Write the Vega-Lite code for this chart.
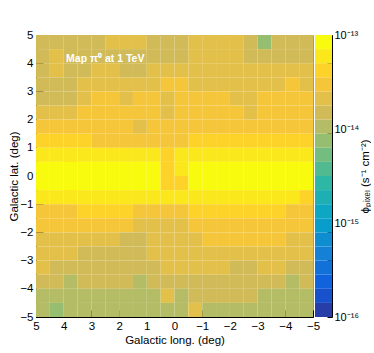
{
  "$schema": "https://vega.github.io/schema/vega-lite/v6.json",
  "background": "white",
  "padding": {"left": 7, "top": 28, "right": 0, "bottom": 0},
  "bounds": "flush",
  "config": {
    "font": "Liberation Sans",
    "view": {"stroke": "#9a9a9a", "strokeWidth": 1},
    "concat": {"spacing": 2},
    "axis": {"labelFont": "Liberation Sans", "titleFont": "Liberation Sans", "labelColor": "black", "titleColor": "black", "domainColor": "black", "tickColor": "black", "grid": false, "labelFlush": false, "labelOverlap": false, "labelBound": false, "titleFontWeight": "normal", "zindex": 1}
  },
  "resolve": {"scale": {"color": "independent"}},
  "hconcat": [
    {
      "width": 277,
      "height": 282,
      "data": {"values": [
{"b":5,"b2":4.5,"l":5,"l2":4.5,"f":1.5e-14},{"b":5,"b2":4.5,"l":4.5,"l2":4,"f":1.5e-14},{"b":5,"b2":4.5,"l":4,"l2":3.5,"f":1.5e-14},{"b":5,"b2":4.5,"l":3.5,"l2":3,"f":1.5e-14},{"b":5,"b2":4.5,"l":3,"l2":2.5,"f":1.5e-14},{"b":5,"b2":4.5,"l":2.5,"l2":2,"f":2.11e-14},{"b":5,"b2":4.5,"l":2,"l2":1.5,"f":2.11e-14},{"b":5,"b2":4.5,"l":1.5,"l2":1,"f":2.11e-14},{"b":5,"b2":4.5,"l":1,"l2":0.5,"f":1.5e-14},{"b":5,"b2":4.5,"l":0.5,"l2":0,"f":1.5e-14},
{"b":5,"b2":4.5,"l":0,"l2":-0.5,"f":1.5e-14},{"b":5,"b2":4.5,"l":-0.5,"l2":-1,"f":2.11e-14},{"b":5,"b2":4.5,"l":-1,"l2":-1.5,"f":2.11e-14},{"b":5,"b2":4.5,"l":-1.5,"l2":-2,"f":2.11e-14},{"b":5,"b2":4.5,"l":-2,"l2":-2.5,"f":2.11e-14},{"b":5,"b2":4.5,"l":-2.5,"l2":-3,"f":1.5e-14},{"b":5,"b2":4.5,"l":-3,"l2":-3.5,"f":7.5e-15},{"b":5,"b2":4.5,"l":-3.5,"l2":-4,"f":1.5e-14},{"b":5,"b2":4.5,"l":-4,"l2":-4.5,"f":1.5e-14},{"b":5,"b2":4.5,"l":-4.5,"l2":-5,"f":1.5e-14},
{"b":4.5,"b2":4,"l":5,"l2":4.5,"f":1.5e-14},{"b":4.5,"b2":4,"l":4.5,"l2":4,"f":2.11e-14},{"b":4.5,"b2":4,"l":4,"l2":3.5,"f":1.5e-14},{"b":4.5,"b2":4,"l":3.5,"l2":3,"f":1.5e-14},{"b":4.5,"b2":4,"l":3,"l2":2.5,"f":1.5e-14},{"b":4.5,"b2":4,"l":2.5,"l2":2,"f":1.5e-14},{"b":4.5,"b2":4,"l":2,"l2":1.5,"f":1.5e-14},{"b":4.5,"b2":4,"l":1.5,"l2":1,"f":1.5e-14},{"b":4.5,"b2":4,"l":1,"l2":0.5,"f":1.5e-14},{"b":4.5,"b2":4,"l":0.5,"l2":0,"f":1.5e-14},
{"b":4.5,"b2":4,"l":0,"l2":-0.5,"f":1.5e-14},{"b":4.5,"b2":4,"l":-0.5,"l2":-1,"f":2.11e-14},{"b":4.5,"b2":4,"l":-1,"l2":-1.5,"f":2.11e-14},{"b":4.5,"b2":4,"l":-1.5,"l2":-2,"f":2.11e-14},{"b":4.5,"b2":4,"l":-2,"l2":-2.5,"f":2.11e-14},{"b":4.5,"b2":4,"l":-2.5,"l2":-3,"f":1.5e-14},{"b":4.5,"b2":4,"l":-3,"l2":-3.5,"f":1.5e-14},{"b":4.5,"b2":4,"l":-3.5,"l2":-4,"f":1.5e-14},{"b":4.5,"b2":4,"l":-4,"l2":-4.5,"f":1.5e-14},{"b":4.5,"b2":4,"l":-4.5,"l2":-5,"f":1.5e-14},
{"b":4,"b2":3.5,"l":5,"l2":4.5,"f":1.5e-14},{"b":4,"b2":3.5,"l":4.5,"l2":4,"f":2.11e-14},{"b":4,"b2":3.5,"l":4,"l2":3.5,"f":1.5e-14},{"b":4,"b2":3.5,"l":3.5,"l2":3,"f":1.5e-14},{"b":4,"b2":3.5,"l":3,"l2":2.5,"f":2.11e-14},{"b":4,"b2":3.5,"l":2.5,"l2":2,"f":2.11e-14},{"b":4,"b2":3.5,"l":2,"l2":1.5,"f":1.5e-14},{"b":4,"b2":3.5,"l":1.5,"l2":1,"f":1.5e-14},{"b":4,"b2":3.5,"l":1,"l2":0.5,"f":2.11e-14},{"b":4,"b2":3.5,"l":0.5,"l2":0,"f":2.11e-14},
{"b":4,"b2":3.5,"l":0,"l2":-0.5,"f":2.11e-14},{"b":4,"b2":3.5,"l":-0.5,"l2":-1,"f":2.11e-14},{"b":4,"b2":3.5,"l":-1,"l2":-1.5,"f":2.11e-14},{"b":4,"b2":3.5,"l":-1.5,"l2":-2,"f":2.11e-14},{"b":4,"b2":3.5,"l":-2,"l2":-2.5,"f":2.11e-14},{"b":4,"b2":3.5,"l":-2.5,"l2":-3,"f":2.11e-14},{"b":4,"b2":3.5,"l":-3,"l2":-3.5,"f":2.11e-14},{"b":4,"b2":3.5,"l":-3.5,"l2":-4,"f":2.11e-14},{"b":4,"b2":3.5,"l":-4,"l2":-4.5,"f":2.11e-14},{"b":4,"b2":3.5,"l":-4.5,"l2":-5,"f":2.11e-14},
{"b":3.5,"b2":3,"l":5,"l2":4.5,"f":1.5e-14},{"b":3.5,"b2":3,"l":4.5,"l2":4,"f":1.5e-14},{"b":3.5,"b2":3,"l":4,"l2":3.5,"f":1.5e-14},{"b":3.5,"b2":3,"l":3.5,"l2":3,"f":2.11e-14},{"b":3.5,"b2":3,"l":3,"l2":2.5,"f":2.11e-14},{"b":3.5,"b2":3,"l":2.5,"l2":2,"f":2.11e-14},{"b":3.5,"b2":3,"l":2,"l2":1.5,"f":2.11e-14},{"b":3.5,"b2":3,"l":1.5,"l2":1,"f":2.11e-14},{"b":3.5,"b2":3,"l":1,"l2":0.5,"f":2.11e-14},{"b":3.5,"b2":3,"l":0.5,"l2":0,"f":2.99e-14},
{"b":3.5,"b2":3,"l":0,"l2":-0.5,"f":2.99e-14},{"b":3.5,"b2":3,"l":-0.5,"l2":-1,"f":2.11e-14},{"b":3.5,"b2":3,"l":-1,"l2":-1.5,"f":2.11e-14},{"b":3.5,"b2":3,"l":-1.5,"l2":-2,"f":2.11e-14},{"b":3.5,"b2":3,"l":-2,"l2":-2.5,"f":2.11e-14},{"b":3.5,"b2":3,"l":-2.5,"l2":-3,"f":2.11e-14},{"b":3.5,"b2":3,"l":-3,"l2":-3.5,"f":2.11e-14},{"b":3.5,"b2":3,"l":-3.5,"l2":-4,"f":2.11e-14},{"b":3.5,"b2":3,"l":-4,"l2":-4.5,"f":2.99e-14},{"b":3.5,"b2":3,"l":-4.5,"l2":-5,"f":2.11e-14},
{"b":3,"b2":2.5,"l":5,"l2":4.5,"f":1.5e-14},{"b":3,"b2":2.5,"l":4.5,"l2":4,"f":1.5e-14},{"b":3,"b2":2.5,"l":4,"l2":3.5,"f":1.5e-14},{"b":3,"b2":2.5,"l":3.5,"l2":3,"f":2.11e-14},{"b":3,"b2":2.5,"l":3,"l2":2.5,"f":2.99e-14},{"b":3,"b2":2.5,"l":2.5,"l2":2,"f":2.99e-14},{"b":3,"b2":2.5,"l":2,"l2":1.5,"f":2.11e-14},{"b":3,"b2":2.5,"l":1.5,"l2":1,"f":2.99e-14},{"b":3,"b2":2.5,"l":1,"l2":0.5,"f":2.99e-14},{"b":3,"b2":2.5,"l":0.5,"l2":0,"f":2.11e-14},
{"b":3,"b2":2.5,"l":0,"l2":-0.5,"f":2.99e-14},{"b":3,"b2":2.5,"l":-0.5,"l2":-1,"f":2.99e-14},{"b":3,"b2":2.5,"l":-1,"l2":-1.5,"f":2.99e-14},{"b":3,"b2":2.5,"l":-1.5,"l2":-2,"f":2.99e-14},{"b":3,"b2":2.5,"l":-2,"l2":-2.5,"f":2.11e-14},{"b":3,"b2":2.5,"l":-2.5,"l2":-3,"f":2.11e-14},{"b":3,"b2":2.5,"l":-3,"l2":-3.5,"f":2.99e-14},{"b":3,"b2":2.5,"l":-3.5,"l2":-4,"f":2.99e-14},{"b":3,"b2":2.5,"l":-4,"l2":-4.5,"f":2.99e-14},{"b":3,"b2":2.5,"l":-4.5,"l2":-5,"f":2.99e-14},
{"b":2.5,"b2":2,"l":5,"l2":4.5,"f":2.11e-14},{"b":2.5,"b2":2,"l":4.5,"l2":4,"f":2.11e-14},{"b":2.5,"b2":2,"l":4,"l2":3.5,"f":2.11e-14},{"b":2.5,"b2":2,"l":3.5,"l2":3,"f":2.99e-14},{"b":2.5,"b2":2,"l":3,"l2":2.5,"f":2.99e-14},{"b":2.5,"b2":2,"l":2.5,"l2":2,"f":2.99e-14},{"b":2.5,"b2":2,"l":2,"l2":1.5,"f":2.99e-14},{"b":2.5,"b2":2,"l":1.5,"l2":1,"f":2.99e-14},{"b":2.5,"b2":2,"l":1,"l2":0.5,"f":2.99e-14},{"b":2.5,"b2":2,"l":0.5,"l2":0,"f":2.11e-14},
{"b":2.5,"b2":2,"l":0,"l2":-0.5,"f":2.99e-14},{"b":2.5,"b2":2,"l":-0.5,"l2":-1,"f":2.99e-14},{"b":2.5,"b2":2,"l":-1,"l2":-1.5,"f":2.99e-14},{"b":2.5,"b2":2,"l":-1.5,"l2":-2,"f":2.99e-14},{"b":2.5,"b2":2,"l":-2,"l2":-2.5,"f":2.99e-14},{"b":2.5,"b2":2,"l":-2.5,"l2":-3,"f":2.11e-14},{"b":2.5,"b2":2,"l":-3,"l2":-3.5,"f":2.99e-14},{"b":2.5,"b2":2,"l":-3.5,"l2":-4,"f":2.99e-14},{"b":2.5,"b2":2,"l":-4,"l2":-4.5,"f":2.99e-14},{"b":2.5,"b2":2,"l":-4.5,"l2":-5,"f":2.99e-14},
{"b":2,"b2":1.5,"l":5,"l2":4.5,"f":2.99e-14},{"b":2,"b2":1.5,"l":4.5,"l2":4,"f":2.99e-14},{"b":2,"b2":1.5,"l":4,"l2":3.5,"f":2.99e-14},{"b":2,"b2":1.5,"l":3.5,"l2":3,"f":2.99e-14},{"b":2,"b2":1.5,"l":3,"l2":2.5,"f":2.99e-14},{"b":2,"b2":1.5,"l":2.5,"l2":2,"f":2.99e-14},{"b":2,"b2":1.5,"l":2,"l2":1.5,"f":2.99e-14},{"b":2,"b2":1.5,"l":1.5,"l2":1,"f":2.11e-14},{"b":2,"b2":1.5,"l":1,"l2":0.5,"f":2.99e-14},{"b":2,"b2":1.5,"l":0.5,"l2":0,"f":2.99e-14},
{"b":2,"b2":1.5,"l":0,"l2":-0.5,"f":2.99e-14},{"b":2,"b2":1.5,"l":-0.5,"l2":-1,"f":2.99e-14},{"b":2,"b2":1.5,"l":-1,"l2":-1.5,"f":2.99e-14},{"b":2,"b2":1.5,"l":-1.5,"l2":-2,"f":2.99e-14},{"b":2,"b2":1.5,"l":-2,"l2":-2.5,"f":2.99e-14},{"b":2,"b2":1.5,"l":-2.5,"l2":-3,"f":2.99e-14},{"b":2,"b2":1.5,"l":-3,"l2":-3.5,"f":2.99e-14},{"b":2,"b2":1.5,"l":-3.5,"l2":-4,"f":2.99e-14},{"b":2,"b2":1.5,"l":-4,"l2":-4.5,"f":2.99e-14},{"b":2,"b2":1.5,"l":-4.5,"l2":-5,"f":2.99e-14},
{"b":1.5,"b2":1,"l":5,"l2":4.5,"f":4.22e-14},{"b":1.5,"b2":1,"l":4.5,"l2":4,"f":4.22e-14},{"b":1.5,"b2":1,"l":4,"l2":3.5,"f":4.22e-14},{"b":1.5,"b2":1,"l":3.5,"l2":3,"f":4.22e-14},{"b":1.5,"b2":1,"l":3,"l2":2.5,"f":2.99e-14},{"b":1.5,"b2":1,"l":2.5,"l2":2,"f":2.99e-14},{"b":1.5,"b2":1,"l":2,"l2":1.5,"f":2.99e-14},{"b":1.5,"b2":1,"l":1.5,"l2":1,"f":2.99e-14},{"b":1.5,"b2":1,"l":1,"l2":0.5,"f":2.99e-14},{"b":1.5,"b2":1,"l":0.5,"l2":0,"f":2.99e-14},
{"b":1.5,"b2":1,"l":0,"l2":-0.5,"f":2.99e-14},{"b":1.5,"b2":1,"l":-0.5,"l2":-1,"f":4.22e-14},{"b":1.5,"b2":1,"l":-1,"l2":-1.5,"f":4.22e-14},{"b":1.5,"b2":1,"l":-1.5,"l2":-2,"f":4.22e-14},{"b":1.5,"b2":1,"l":-2,"l2":-2.5,"f":4.22e-14},{"b":1.5,"b2":1,"l":-2.5,"l2":-3,"f":4.22e-14},{"b":1.5,"b2":1,"l":-3,"l2":-3.5,"f":4.22e-14},{"b":1.5,"b2":1,"l":-3.5,"l2":-4,"f":4.22e-14},{"b":1.5,"b2":1,"l":-4,"l2":-4.5,"f":4.22e-14},{"b":1.5,"b2":1,"l":-4.5,"l2":-5,"f":4.22e-14},
{"b":1,"b2":0.5,"l":5,"l2":4.5,"f":5.96e-14},{"b":1,"b2":0.5,"l":4.5,"l2":4,"f":5.96e-14},{"b":1,"b2":0.5,"l":4,"l2":3.5,"f":5.96e-14},{"b":1,"b2":0.5,"l":3.5,"l2":3,"f":5.96e-14},{"b":1,"b2":0.5,"l":3,"l2":2.5,"f":5.96e-14},{"b":1,"b2":0.5,"l":2.5,"l2":2,"f":5.96e-14},{"b":1,"b2":0.5,"l":2,"l2":1.5,"f":5.96e-14},{"b":1,"b2":0.5,"l":1.5,"l2":1,"f":5.96e-14},{"b":1,"b2":0.5,"l":1,"l2":0.5,"f":5.96e-14},{"b":1,"b2":0.5,"l":0.5,"l2":0,"f":4.22e-14},
{"b":1,"b2":0.5,"l":0,"l2":-0.5,"f":5.96e-14},{"b":1,"b2":0.5,"l":-0.5,"l2":-1,"f":5.96e-14},{"b":1,"b2":0.5,"l":-1,"l2":-1.5,"f":5.96e-14},{"b":1,"b2":0.5,"l":-1.5,"l2":-2,"f":5.96e-14},{"b":1,"b2":0.5,"l":-2,"l2":-2.5,"f":5.96e-14},{"b":1,"b2":0.5,"l":-2.5,"l2":-3,"f":5.96e-14},{"b":1,"b2":0.5,"l":-3,"l2":-3.5,"f":5.96e-14},{"b":1,"b2":0.5,"l":-3.5,"l2":-4,"f":5.96e-14},{"b":1,"b2":0.5,"l":-4,"l2":-4.5,"f":5.96e-14},{"b":1,"b2":0.5,"l":-4.5,"l2":-5,"f":5.96e-14},
{"b":0.5,"b2":0,"l":5,"l2":4.5,"f":8.41e-14},{"b":0.5,"b2":0,"l":4.5,"l2":4,"f":8.41e-14},{"b":0.5,"b2":0,"l":4,"l2":3.5,"f":8.41e-14},{"b":0.5,"b2":0,"l":3.5,"l2":3,"f":8.41e-14},{"b":0.5,"b2":0,"l":3,"l2":2.5,"f":8.41e-14},{"b":0.5,"b2":0,"l":2.5,"l2":2,"f":8.41e-14},{"b":0.5,"b2":0,"l":2,"l2":1.5,"f":8.41e-14},{"b":0.5,"b2":0,"l":1.5,"l2":1,"f":8.41e-14},{"b":0.5,"b2":0,"l":1,"l2":0.5,"f":8.41e-14},{"b":0.5,"b2":0,"l":0.5,"l2":0,"f":4.22e-14},
{"b":0.5,"b2":0,"l":0,"l2":-0.5,"f":5.96e-14},{"b":0.5,"b2":0,"l":-0.5,"l2":-1,"f":8.41e-14},{"b":0.5,"b2":0,"l":-1,"l2":-1.5,"f":8.41e-14},{"b":0.5,"b2":0,"l":-1.5,"l2":-2,"f":8.41e-14},{"b":0.5,"b2":0,"l":-2,"l2":-2.5,"f":8.41e-14},{"b":0.5,"b2":0,"l":-2.5,"l2":-3,"f":8.41e-14},{"b":0.5,"b2":0,"l":-3,"l2":-3.5,"f":8.41e-14},{"b":0.5,"b2":0,"l":-3.5,"l2":-4,"f":8.41e-14},{"b":0.5,"b2":0,"l":-4,"l2":-4.5,"f":8.41e-14},{"b":0.5,"b2":0,"l":-4.5,"l2":-5,"f":8.41e-14},
{"b":0,"b2":-0.5,"l":5,"l2":4.5,"f":8.41e-14},{"b":0,"b2":-0.5,"l":4.5,"l2":4,"f":8.41e-14},{"b":0,"b2":-0.5,"l":4,"l2":3.5,"f":8.41e-14},{"b":0,"b2":-0.5,"l":3.5,"l2":3,"f":8.41e-14},{"b":0,"b2":-0.5,"l":3,"l2":2.5,"f":8.41e-14},{"b":0,"b2":-0.5,"l":2.5,"l2":2,"f":8.41e-14},{"b":0,"b2":-0.5,"l":2,"l2":1.5,"f":8.41e-14},{"b":0,"b2":-0.5,"l":1.5,"l2":1,"f":8.41e-14},{"b":0,"b2":-0.5,"l":1,"l2":0.5,"f":8.41e-14},{"b":0,"b2":-0.5,"l":0.5,"l2":0,"f":4.22e-14},
{"b":0,"b2":-0.5,"l":0,"l2":-0.5,"f":4.22e-14},{"b":0,"b2":-0.5,"l":-0.5,"l2":-1,"f":8.41e-14},{"b":0,"b2":-0.5,"l":-1,"l2":-1.5,"f":8.41e-14},{"b":0,"b2":-0.5,"l":-1.5,"l2":-2,"f":8.41e-14},{"b":0,"b2":-0.5,"l":-2,"l2":-2.5,"f":8.41e-14},{"b":0,"b2":-0.5,"l":-2.5,"l2":-3,"f":8.41e-14},{"b":0,"b2":-0.5,"l":-3,"l2":-3.5,"f":8.41e-14},{"b":0,"b2":-0.5,"l":-3.5,"l2":-4,"f":8.41e-14},{"b":0,"b2":-0.5,"l":-4,"l2":-4.5,"f":8.41e-14},{"b":0,"b2":-0.5,"l":-4.5,"l2":-5,"f":8.41e-14},
{"b":-0.5,"b2":-1,"l":5,"l2":4.5,"f":5.96e-14},{"b":-0.5,"b2":-1,"l":4.5,"l2":4,"f":5.96e-14},{"b":-0.5,"b2":-1,"l":4,"l2":3.5,"f":5.96e-14},{"b":-0.5,"b2":-1,"l":3.5,"l2":3,"f":5.96e-14},{"b":-0.5,"b2":-1,"l":3,"l2":2.5,"f":5.96e-14},{"b":-0.5,"b2":-1,"l":2.5,"l2":2,"f":5.96e-14},{"b":-0.5,"b2":-1,"l":2,"l2":1.5,"f":5.96e-14},{"b":-0.5,"b2":-1,"l":1.5,"l2":1,"f":5.96e-14},{"b":-0.5,"b2":-1,"l":1,"l2":0.5,"f":5.96e-14},{"b":-0.5,"b2":-1,"l":0.5,"l2":0,"f":5.96e-14},
{"b":-0.5,"b2":-1,"l":0,"l2":-0.5,"f":5.96e-14},{"b":-0.5,"b2":-1,"l":-0.5,"l2":-1,"f":5.96e-14},{"b":-0.5,"b2":-1,"l":-1,"l2":-1.5,"f":5.96e-14},{"b":-0.5,"b2":-1,"l":-1.5,"l2":-2,"f":5.96e-14},{"b":-0.5,"b2":-1,"l":-2,"l2":-2.5,"f":5.96e-14},{"b":-0.5,"b2":-1,"l":-2.5,"l2":-3,"f":5.96e-14},{"b":-0.5,"b2":-1,"l":-3,"l2":-3.5,"f":5.96e-14},{"b":-0.5,"b2":-1,"l":-3.5,"l2":-4,"f":5.96e-14},{"b":-0.5,"b2":-1,"l":-4,"l2":-4.5,"f":5.96e-14},{"b":-0.5,"b2":-1,"l":-4.5,"l2":-5,"f":4.22e-14},
{"b":-1,"b2":-1.5,"l":5,"l2":4.5,"f":2.99e-14},{"b":-1,"b2":-1.5,"l":4.5,"l2":4,"f":2.99e-14},{"b":-1,"b2":-1.5,"l":4,"l2":3.5,"f":2.99e-14},{"b":-1,"b2":-1.5,"l":3.5,"l2":3,"f":4.22e-14},{"b":-1,"b2":-1.5,"l":3,"l2":2.5,"f":4.22e-14},{"b":-1,"b2":-1.5,"l":2.5,"l2":2,"f":4.22e-14},{"b":-1,"b2":-1.5,"l":2,"l2":1.5,"f":4.22e-14},{"b":-1,"b2":-1.5,"l":1.5,"l2":1,"f":2.99e-14},{"b":-1,"b2":-1.5,"l":1,"l2":0.5,"f":2.99e-14},{"b":-1,"b2":-1.5,"l":0.5,"l2":0,"f":2.99e-14},
{"b":-1,"b2":-1.5,"l":0,"l2":-0.5,"f":2.99e-14},{"b":-1,"b2":-1.5,"l":-0.5,"l2":-1,"f":4.22e-14},{"b":-1,"b2":-1.5,"l":-1,"l2":-1.5,"f":4.22e-14},{"b":-1,"b2":-1.5,"l":-1.5,"l2":-2,"f":4.22e-14},{"b":-1,"b2":-1.5,"l":-2,"l2":-2.5,"f":4.22e-14},{"b":-1,"b2":-1.5,"l":-2.5,"l2":-3,"f":4.22e-14},{"b":-1,"b2":-1.5,"l":-3,"l2":-3.5,"f":4.22e-14},{"b":-1,"b2":-1.5,"l":-3.5,"l2":-4,"f":4.22e-14},{"b":-1,"b2":-1.5,"l":-4,"l2":-4.5,"f":2.99e-14},{"b":-1,"b2":-1.5,"l":-4.5,"l2":-5,"f":2.99e-14},
{"b":-1.5,"b2":-2,"l":5,"l2":4.5,"f":2.99e-14},{"b":-1.5,"b2":-2,"l":4.5,"l2":4,"f":2.99e-14},{"b":-1.5,"b2":-2,"l":4,"l2":3.5,"f":2.99e-14},{"b":-1.5,"b2":-2,"l":3.5,"l2":3,"f":2.99e-14},{"b":-1.5,"b2":-2,"l":3,"l2":2.5,"f":2.99e-14},{"b":-1.5,"b2":-2,"l":2.5,"l2":2,"f":2.99e-14},{"b":-1.5,"b2":-2,"l":2,"l2":1.5,"f":2.99e-14},{"b":-1.5,"b2":-2,"l":1.5,"l2":1,"f":2.11e-14},{"b":-1.5,"b2":-2,"l":1,"l2":0.5,"f":2.11e-14},{"b":-1.5,"b2":-2,"l":0.5,"l2":0,"f":2.11e-14},
{"b":-1.5,"b2":-2,"l":0,"l2":-0.5,"f":2.11e-14},{"b":-1.5,"b2":-2,"l":-0.5,"l2":-1,"f":2.99e-14},{"b":-1.5,"b2":-2,"l":-1,"l2":-1.5,"f":2.99e-14},{"b":-1.5,"b2":-2,"l":-1.5,"l2":-2,"f":2.99e-14},{"b":-1.5,"b2":-2,"l":-2,"l2":-2.5,"f":2.99e-14},{"b":-1.5,"b2":-2,"l":-2.5,"l2":-3,"f":2.99e-14},{"b":-1.5,"b2":-2,"l":-3,"l2":-3.5,"f":2.99e-14},{"b":-1.5,"b2":-2,"l":-3.5,"l2":-4,"f":2.99e-14},{"b":-1.5,"b2":-2,"l":-4,"l2":-4.5,"f":2.99e-14},{"b":-1.5,"b2":-2,"l":-4.5,"l2":-5,"f":2.99e-14},
{"b":-2,"b2":-2.5,"l":5,"l2":4.5,"f":2.11e-14},{"b":-2,"b2":-2.5,"l":4.5,"l2":4,"f":2.11e-14},{"b":-2,"b2":-2.5,"l":4,"l2":3.5,"f":2.11e-14},{"b":-2,"b2":-2.5,"l":3.5,"l2":3,"f":2.11e-14},{"b":-2,"b2":-2.5,"l":3,"l2":2.5,"f":2.11e-14},{"b":-2,"b2":-2.5,"l":2.5,"l2":2,"f":2.11e-14},{"b":-2,"b2":-2.5,"l":2,"l2":1.5,"f":1.5e-14},{"b":-2,"b2":-2.5,"l":1.5,"l2":1,"f":1.5e-14},{"b":-2,"b2":-2.5,"l":1,"l2":0.5,"f":2.11e-14},{"b":-2,"b2":-2.5,"l":0.5,"l2":0,"f":2.11e-14},
{"b":-2,"b2":-2.5,"l":0,"l2":-0.5,"f":2.11e-14},{"b":-2,"b2":-2.5,"l":-0.5,"l2":-1,"f":2.11e-14},{"b":-2,"b2":-2.5,"l":-1,"l2":-1.5,"f":2.99e-14},{"b":-2,"b2":-2.5,"l":-1.5,"l2":-2,"f":2.99e-14},{"b":-2,"b2":-2.5,"l":-2,"l2":-2.5,"f":2.99e-14},{"b":-2,"b2":-2.5,"l":-2.5,"l2":-3,"f":2.99e-14},{"b":-2,"b2":-2.5,"l":-3,"l2":-3.5,"f":2.99e-14},{"b":-2,"b2":-2.5,"l":-3.5,"l2":-4,"f":2.99e-14},{"b":-2,"b2":-2.5,"l":-4,"l2":-4.5,"f":2.11e-14},{"b":-2,"b2":-2.5,"l":-4.5,"l2":-5,"f":2.11e-14},
{"b":-2.5,"b2":-3,"l":5,"l2":4.5,"f":2.11e-14},{"b":-2.5,"b2":-3,"l":4.5,"l2":4,"f":2.11e-14},{"b":-2.5,"b2":-3,"l":4,"l2":3.5,"f":2.11e-14},{"b":-2.5,"b2":-3,"l":3.5,"l2":3,"f":1.5e-14},{"b":-2.5,"b2":-3,"l":3,"l2":2.5,"f":1.5e-14},{"b":-2.5,"b2":-3,"l":2.5,"l2":2,"f":1.5e-14},{"b":-2.5,"b2":-3,"l":2,"l2":1.5,"f":1.5e-14},{"b":-2.5,"b2":-3,"l":1.5,"l2":1,"f":1.5e-14},{"b":-2.5,"b2":-3,"l":1,"l2":0.5,"f":2.11e-14},{"b":-2.5,"b2":-3,"l":0.5,"l2":0,"f":2.11e-14},
{"b":-2.5,"b2":-3,"l":0,"l2":-0.5,"f":2.11e-14},{"b":-2.5,"b2":-3,"l":-0.5,"l2":-1,"f":2.11e-14},{"b":-2.5,"b2":-3,"l":-1,"l2":-1.5,"f":2.11e-14},{"b":-2.5,"b2":-3,"l":-1.5,"l2":-2,"f":2.11e-14},{"b":-2.5,"b2":-3,"l":-2,"l2":-2.5,"f":2.11e-14},{"b":-2.5,"b2":-3,"l":-2.5,"l2":-3,"f":2.11e-14},{"b":-2.5,"b2":-3,"l":-3,"l2":-3.5,"f":2.11e-14},{"b":-2.5,"b2":-3,"l":-3.5,"l2":-4,"f":2.11e-14},{"b":-2.5,"b2":-3,"l":-4,"l2":-4.5,"f":2.11e-14},{"b":-2.5,"b2":-3,"l":-4.5,"l2":-5,"f":2.11e-14},
{"b":-3,"b2":-3.5,"l":5,"l2":4.5,"f":2.11e-14},{"b":-3,"b2":-3.5,"l":4.5,"l2":4,"f":1.5e-14},{"b":-3,"b2":-3.5,"l":4,"l2":3.5,"f":1.5e-14},{"b":-3,"b2":-3.5,"l":3.5,"l2":3,"f":1.5e-14},{"b":-3,"b2":-3.5,"l":3,"l2":2.5,"f":1.5e-14},{"b":-3,"b2":-3.5,"l":2.5,"l2":2,"f":1.5e-14},{"b":-3,"b2":-3.5,"l":2,"l2":1.5,"f":1.5e-14},{"b":-3,"b2":-3.5,"l":1.5,"l2":1,"f":1.5e-14},{"b":-3,"b2":-3.5,"l":1,"l2":0.5,"f":1.5e-14},{"b":-3,"b2":-3.5,"l":0.5,"l2":0,"f":2.11e-14},
{"b":-3,"b2":-3.5,"l":0,"l2":-0.5,"f":2.11e-14},{"b":-3,"b2":-3.5,"l":-0.5,"l2":-1,"f":2.11e-14},{"b":-3,"b2":-3.5,"l":-1,"l2":-1.5,"f":2.11e-14},{"b":-3,"b2":-3.5,"l":-1.5,"l2":-2,"f":2.11e-14},{"b":-3,"b2":-3.5,"l":-2,"l2":-2.5,"f":1.5e-14},{"b":-3,"b2":-3.5,"l":-2.5,"l2":-3,"f":1.5e-14},{"b":-3,"b2":-3.5,"l":-3,"l2":-3.5,"f":2.11e-14},{"b":-3,"b2":-3.5,"l":-3.5,"l2":-4,"f":2.11e-14},{"b":-3,"b2":-3.5,"l":-4,"l2":-4.5,"f":1.5e-14},{"b":-3,"b2":-3.5,"l":-4.5,"l2":-5,"f":1.5e-14},
{"b":-3.5,"b2":-4,"l":5,"l2":4.5,"f":1.5e-14},{"b":-3.5,"b2":-4,"l":4.5,"l2":4,"f":1.5e-14},{"b":-3.5,"b2":-4,"l":4,"l2":3.5,"f":1.06e-14},{"b":-3.5,"b2":-4,"l":3.5,"l2":3,"f":1.5e-14},{"b":-3.5,"b2":-4,"l":3,"l2":2.5,"f":1.5e-14},{"b":-3.5,"b2":-4,"l":2.5,"l2":2,"f":1.5e-14},{"b":-3.5,"b2":-4,"l":2,"l2":1.5,"f":1.5e-14},{"b":-3.5,"b2":-4,"l":1.5,"l2":1,"f":1.06e-14},{"b":-3.5,"b2":-4,"l":1,"l2":0.5,"f":1.5e-14},{"b":-3.5,"b2":-4,"l":0.5,"l2":0,"f":1.5e-14},
{"b":-3.5,"b2":-4,"l":0,"l2":-0.5,"f":1.5e-14},{"b":-3.5,"b2":-4,"l":-0.5,"l2":-1,"f":1.5e-14},{"b":-3.5,"b2":-4,"l":-1,"l2":-1.5,"f":1.5e-14},{"b":-3.5,"b2":-4,"l":-1.5,"l2":-2,"f":1.5e-14},{"b":-3.5,"b2":-4,"l":-2,"l2":-2.5,"f":1.5e-14},{"b":-3.5,"b2":-4,"l":-2.5,"l2":-3,"f":1.5e-14},{"b":-3.5,"b2":-4,"l":-3,"l2":-3.5,"f":1.5e-14},{"b":-3.5,"b2":-4,"l":-3.5,"l2":-4,"f":1.5e-14},{"b":-3.5,"b2":-4,"l":-4,"l2":-4.5,"f":1.06e-14},{"b":-3.5,"b2":-4,"l":-4.5,"l2":-5,"f":1.5e-14},
{"b":-4,"b2":-4.5,"l":5,"l2":4.5,"f":1.06e-14},{"b":-4,"b2":-4.5,"l":4.5,"l2":4,"f":1.06e-14},{"b":-4,"b2":-4.5,"l":4,"l2":3.5,"f":1.06e-14},{"b":-4,"b2":-4.5,"l":3.5,"l2":3,"f":1.06e-14},{"b":-4,"b2":-4.5,"l":3,"l2":2.5,"f":1.06e-14},{"b":-4,"b2":-4.5,"l":2.5,"l2":2,"f":1.06e-14},{"b":-4,"b2":-4.5,"l":2,"l2":1.5,"f":1.06e-14},{"b":-4,"b2":-4.5,"l":1.5,"l2":1,"f":1.06e-14},{"b":-4,"b2":-4.5,"l":1,"l2":0.5,"f":1.06e-14},{"b":-4,"b2":-4.5,"l":0.5,"l2":0,"f":2.11e-14},
{"b":-4,"b2":-4.5,"l":0,"l2":-0.5,"f":1.06e-14},{"b":-4,"b2":-4.5,"l":-0.5,"l2":-1,"f":1.5e-14},{"b":-4,"b2":-4.5,"l":-1,"l2":-1.5,"f":1.5e-14},{"b":-4,"b2":-4.5,"l":-1.5,"l2":-2,"f":1.5e-14},{"b":-4,"b2":-4.5,"l":-2,"l2":-2.5,"f":1.5e-14},{"b":-4,"b2":-4.5,"l":-2.5,"l2":-3,"f":1.5e-14},{"b":-4,"b2":-4.5,"l":-3,"l2":-3.5,"f":1.06e-14},{"b":-4,"b2":-4.5,"l":-3.5,"l2":-4,"f":1.06e-14},{"b":-4,"b2":-4.5,"l":-4,"l2":-4.5,"f":1.06e-14},{"b":-4,"b2":-4.5,"l":-4.5,"l2":-5,"f":1.06e-14},
{"b":-4.5,"b2":-5,"l":5,"l2":4.5,"f":1.06e-14},{"b":-4.5,"b2":-5,"l":4.5,"l2":4,"f":7.5e-15},{"b":-4.5,"b2":-5,"l":4,"l2":3.5,"f":1.06e-14},{"b":-4.5,"b2":-5,"l":3.5,"l2":3,"f":1.06e-14},{"b":-4.5,"b2":-5,"l":3,"l2":2.5,"f":1.06e-14},{"b":-4.5,"b2":-5,"l":2.5,"l2":2,"f":1.06e-14},{"b":-4.5,"b2":-5,"l":2,"l2":1.5,"f":1.06e-14},{"b":-4.5,"b2":-5,"l":1.5,"l2":1,"f":1.06e-14},{"b":-4.5,"b2":-5,"l":1,"l2":0.5,"f":1.06e-14},{"b":-4.5,"b2":-5,"l":0.5,"l2":0,"f":1.06e-14},
{"b":-4.5,"b2":-5,"l":0,"l2":-0.5,"f":1.06e-14},{"b":-4.5,"b2":-5,"l":-0.5,"l2":-1,"f":2.11e-14},{"b":-4.5,"b2":-5,"l":-1,"l2":-1.5,"f":1.06e-14},{"b":-4.5,"b2":-5,"l":-1.5,"l2":-2,"f":1.06e-14},{"b":-4.5,"b2":-5,"l":-2,"l2":-2.5,"f":1.06e-14},{"b":-4.5,"b2":-5,"l":-2.5,"l2":-3,"f":1.06e-14},{"b":-4.5,"b2":-5,"l":-3,"l2":-3.5,"f":1.06e-14},{"b":-4.5,"b2":-5,"l":-3.5,"l2":-4,"f":1.06e-14},{"b":-4.5,"b2":-5,"l":-4,"l2":-4.5,"f":1.06e-14},{"b":-4.5,"b2":-5,"l":-4.5,"l2":-5,"f":1.06e-14}
      ]},
      "resolve": {"axis": {"x": "independent", "y": "independent"}},
      "layer": [
        {
          "mark": {"type": "rect"},
          "encoding": {
            "x": {"field": "l", "type": "quantitative", "scale": {"domain": [-5, 5], "reverse": true, "nice": false, "zero": false},
              "axis": {"orient": "bottom", "values": [-5,-4,-3,-2,-1,0,1,2,3,4,5],
                "labelExpr": "datum.value < 0 ? '−' + abs(datum.value) : '' + datum.value",
                "tickSize": -7, "labelFontSize": 11.5, "labelPadding": 10,
                "title": "Galactic long. (deg)", "titleFontSize": 11.5, "titleX": 138.5, "titleY": 26, "titleAlign": "center", "titleBaseline": "alphabetic"}},
            "x2": {"field": "l2"},
            "y": {"field": "b", "type": "quantitative", "scale": {"domain": [-5, 5], "nice": false, "zero": false},
              "axis": {"orient": "left", "values": [-5,-4,-3,-2,-1,0,1,2,3,4,5],
                "labelExpr": "datum.value < 0 ? '−' + abs(datum.value) : '' + datum.value",
                "tickSize": -7, "labelFontSize": 11.5, "labelPadding": 10,
                "title": "Galactic lat. (deg)", "titleFontSize": 11.5, "titleX": -19, "titleY": 141, "titleAlign": "center", "titleBaseline": "alphabetic", "titleAngle": 270}},
            "y2": {"field": "b2"},
            "color": {"field": "f", "type": "quantitative", "legend": null,
              "scale": {"type": "threshold",
                "domain": [1.4125e-16,1.9953e-16,2.8184e-16,3.9811e-16,5.6234e-16,7.9433e-16,1.122e-15,1.5849e-15,2.2387e-15,3.1623e-15,4.4668e-15,6.3096e-15,8.9125e-15,1.2589e-14,1.7783e-14,2.5119e-14,3.5481e-14,5.0119e-14,7.0795e-14],
                "range": ["#273da8","#1751cb","#1063dc","#1271d9","#1480d6","#0e8ed1","#099dcc","#0da7c3","#1eafb3","#2eb7a4","#52ba91","#74bd80","#96be71","#b4bd65","#d1bb59","#e3c04a","#f5c63a","#fdd32a","#fbe81c","#f9fb0e"]}}
          }
        },
        {
          "mark": {"type": "rect", "opacity": 0},
          "encoding": {
            "x": {"field": "l", "type": "quantitative",
              "axis": {"orient": "bottom", "values": [-4.8,-4.6,-4.4,-4.2,-3.8,-3.6,-3.4,-3.2,-2.8,-2.6,-2.4,-2.2,-1.8,-1.6,-1.4,-1.2,-0.8,-0.6,-0.4,-0.2,0.2,0.4,0.6,0.8,1.2,1.4,1.6,1.8,2.2,2.4,2.6,2.8,3.2,3.4,3.6,3.8,4.2,4.4,4.6,4.8],
                "tickSize": -3.5, "labels": false, "domain": false, "title": null}},
            "x2": {"field": "l2"},
            "y": {"field": "b", "type": "quantitative",
              "axis": {"orient": "left", "values": [-4.8,-4.6,-4.4,-4.2,-3.8,-3.6,-3.4,-3.2,-2.8,-2.6,-2.4,-2.2,-1.8,-1.6,-1.4,-1.2,-0.8,-0.6,-0.4,-0.2,0.2,0.4,0.6,0.8,1.2,1.4,1.6,1.8,2.2,2.4,2.6,2.8,3.2,3.4,3.6,3.8,4.2,4.4,4.6,4.8],
                "tickSize": -3.5, "labels": false, "domain": false, "title": null}},
            "y2": {"field": "b2"}
          }
        },
        {
          "data": {"values": [{}]},
          "mark": {"type": "text", "text": "Map  π⁰ at 1 TeV", "color": "white", "fontWeight": "bold", "fontSize": 10.5, "align": "center", "baseline": "middle", "font": "Liberation Sans"},
          "encoding": {"x": {"datum": 2.5, "type": "quantitative", "axis": null}, "y": {"datum": 4.15, "type": "quantitative", "axis": null}}
        }
      ]
    },
    {
      "width": 17,
      "height": 282,
      "view": {"stroke": null},
      "data": {"values": [
        {"lo": 1e-16, "hi": 1.4125e-16, "f": 1.1885e-16},
        {"lo": 1.4125e-16, "hi": 1.9953e-16, "f": 1.6788e-16},
        {"lo": 1.9953e-16, "hi": 2.8184e-16, "f": 2.3714e-16},
        {"lo": 2.8184e-16, "hi": 3.9811e-16, "f": 3.3497e-16},
        {"lo": 3.9811e-16, "hi": 5.6234e-16, "f": 4.7315e-16},
        {"lo": 5.6234e-16, "hi": 7.9433e-16, "f": 6.6834e-16},
        {"lo": 7.9433e-16, "hi": 1.122e-15, "f": 9.4406e-16},
        {"lo": 1.122e-15, "hi": 1.5849e-15, "f": 1.3335e-15},
        {"lo": 1.5849e-15, "hi": 2.2387e-15, "f": 1.8836e-15},
        {"lo": 2.2387e-15, "hi": 3.1623e-15, "f": 2.6607e-15},
        {"lo": 3.1623e-15, "hi": 4.4668e-15, "f": 3.7584e-15},
        {"lo": 4.4668e-15, "hi": 6.3096e-15, "f": 5.3088e-15},
        {"lo": 6.3096e-15, "hi": 8.9125e-15, "f": 7.4989e-15},
        {"lo": 8.9125e-15, "hi": 1.2589e-14, "f": 1.0593e-14},
        {"lo": 1.2589e-14, "hi": 1.7783e-14, "f": 1.4962e-14},
        {"lo": 1.7783e-14, "hi": 2.5119e-14, "f": 2.1135e-14},
        {"lo": 2.5119e-14, "hi": 3.5481e-14, "f": 2.9854e-14},
        {"lo": 3.5481e-14, "hi": 5.0119e-14, "f": 4.217e-14},
        {"lo": 5.0119e-14, "hi": 7.0795e-14, "f": 5.9566e-14},
        {"lo": 7.0795e-14, "hi": 1e-13, "f": 8.414e-14}
      ]},
      "mark": {"type": "rect"},
      "encoding": {
        "y": {"field": "lo", "type": "quantitative", "scale": {"type": "log", "domain": [1e-16, 1e-13], "nice": false},
          "axis": {"orient": "right",
            "values": [1e-16,2e-16,3e-16,4e-16,5e-16,6e-16,7e-16,8e-16,9e-16,1e-15,2e-15,3e-15,4e-15,5e-15,6e-15,7e-15,8e-15,9e-15,1e-14,2e-14,3e-14,4e-14,5e-14,6e-14,7e-14,8e-14,9e-14,1e-13],
            "labelExpr": "abs(log(datum.value)/LN10 - round(log(datum.value)/LN10)) > 0.01 ? '' : datum.value < 5e-16 ? '10⁻¹⁶' : datum.value < 5e-15 ? '10⁻¹⁵' : datum.value < 5e-14 ? '10⁻¹⁴' : '10⁻¹³'",
            "tickSize": -5, "labelFontSize": 11, "labelPadding": 7,
            "title": "ϕₚᵢₓₑₗ (s⁻¹ cm⁻²)", "titleFontSize": 11.5, "titleAngle": 270, "titleX": 33, "titleY": 141, "titleAlign": "center", "titleBaseline": "middle"}},
        "y2": {"field": "hi"},
        "color": {"field": "f", "type": "quantitative", "legend": null,
          "scale": {"type": "threshold",
            "domain": [1.4125e-16,1.9953e-16,2.8184e-16,3.9811e-16,5.6234e-16,7.9433e-16,1.122e-15,1.5849e-15,2.2387e-15,3.1623e-15,4.4668e-15,6.3096e-15,8.9125e-15,1.2589e-14,1.7783e-14,2.5119e-14,3.5481e-14,5.0119e-14,7.0795e-14],
            "range": ["#273da8","#1751cb","#1063dc","#1271d9","#1480d6","#0e8ed1","#099dcc","#0da7c3","#1eafb3","#2eb7a4","#52ba91","#74bd80","#96be71","#b4bd65","#d1bb59","#e3c04a","#f5c63a","#fdd32a","#fbe81c","#f9fb0e"]}}
      }
    }
  ]
}
